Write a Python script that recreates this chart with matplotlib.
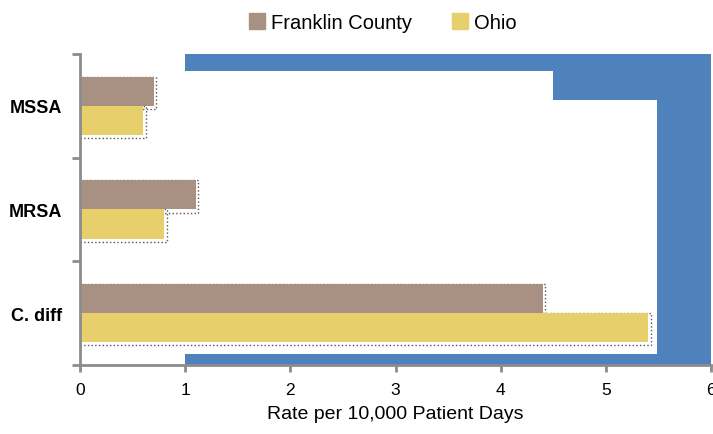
import numpy as np
import matplotlib.pyplot as plt
from matplotlib.patches import Polygon, Rectangle

plt.rcParams['font.family'] = ['Liberation Sans', 'DejaVu Sans']

categories = ['C. diff', 'MRSA', 'MSSA']
franklin = [4.4, 1.1, 0.7]
ohio = [5.4, 0.8, 0.6]
series_names = ['Franklin County', 'Ohio']

c_fc = '#A89082'
c_oh = '#E7D06B'
c_blue = '#4F81BD'
c_axis = '#8C8C8C'

fig = plt.figure(figsize=(7.13, 4.35), dpi=100)
ax = fig.add_axes([0.1122, 0.1586, 0.885, 0.715])

# blue decorative frame behind the bars
frame = Polygon([(1, 2.5), (6, 2.5), (6, -0.5), (1, -0.5), (1, -0.395),
                 (5.49, -0.395), (5.49, 2.057), (4.5, 2.057), (4.5, 2.336),
                 (1, 2.336)], closed=True, facecolor=c_blue, edgecolor='none',
                zorder=0)
ax.add_patch(frame)

y = np.arange(len(categories))
h = 0.28
for vals, off, col in [(franklin, 0.14, c_fc), (ohio, -0.14, c_oh)]:
    # dotted shadow outline
    for yi, v in zip(y, vals):
        ax.add_patch(Rectangle((0, yi + off - h / 2 - 0.03), v + 0.025, h + 0.03,
                               fill=False, ls=':', lw=1.0, edgecolor='#555555',
                               zorder=1))
    ax.barh(y + off, vals, height=h, color=col, edgecolor='none', zorder=2)

ax.set_xlim(0, 6)
ax.set_ylim(-0.5, 2.5)

ax.set_yticks(y)
ax.set_yticklabels(categories, fontsize=13, fontweight='bold')
ax.set_yticks([-0.5, 0.5, 1.5, 2.5], minor=True)
ax.tick_params(axis='y', which='major', length=0, pad=13)
ax.tick_params(axis='y', which='minor', length=6, width=2, color=c_axis)
ax.set_xticks(range(7))
ax.tick_params(axis='x', length=5, width=2, color=c_axis, labelsize=12.5, pad=7)
ax.set_xlabel('Rate per 10,000 Patient Days', fontsize=14, labelpad=6)

for s in ['top', 'right']:
    ax.spines[s].set_visible(False)
for s in ['left', 'bottom']:
    ax.spines[s].set_color(c_axis)
    ax.spines[s].set_linewidth(2)
    ax.spines[s].set_zorder(3)

handles = [Rectangle((0, 0), 1, 1, color=c_fc), Rectangle((0, 0), 1, 1, color=c_oh)]
fig.legend(handles, series_names, loc='upper center', bbox_to_anchor=(0.537, 1.01),
           ncol=2, frameon=False, fontsize=14.5, handlelength=0.8,
           handleheight=0.85, handletextpad=0.3, columnspacing=2.0)

fig.savefig('out.png', dpi=100)
